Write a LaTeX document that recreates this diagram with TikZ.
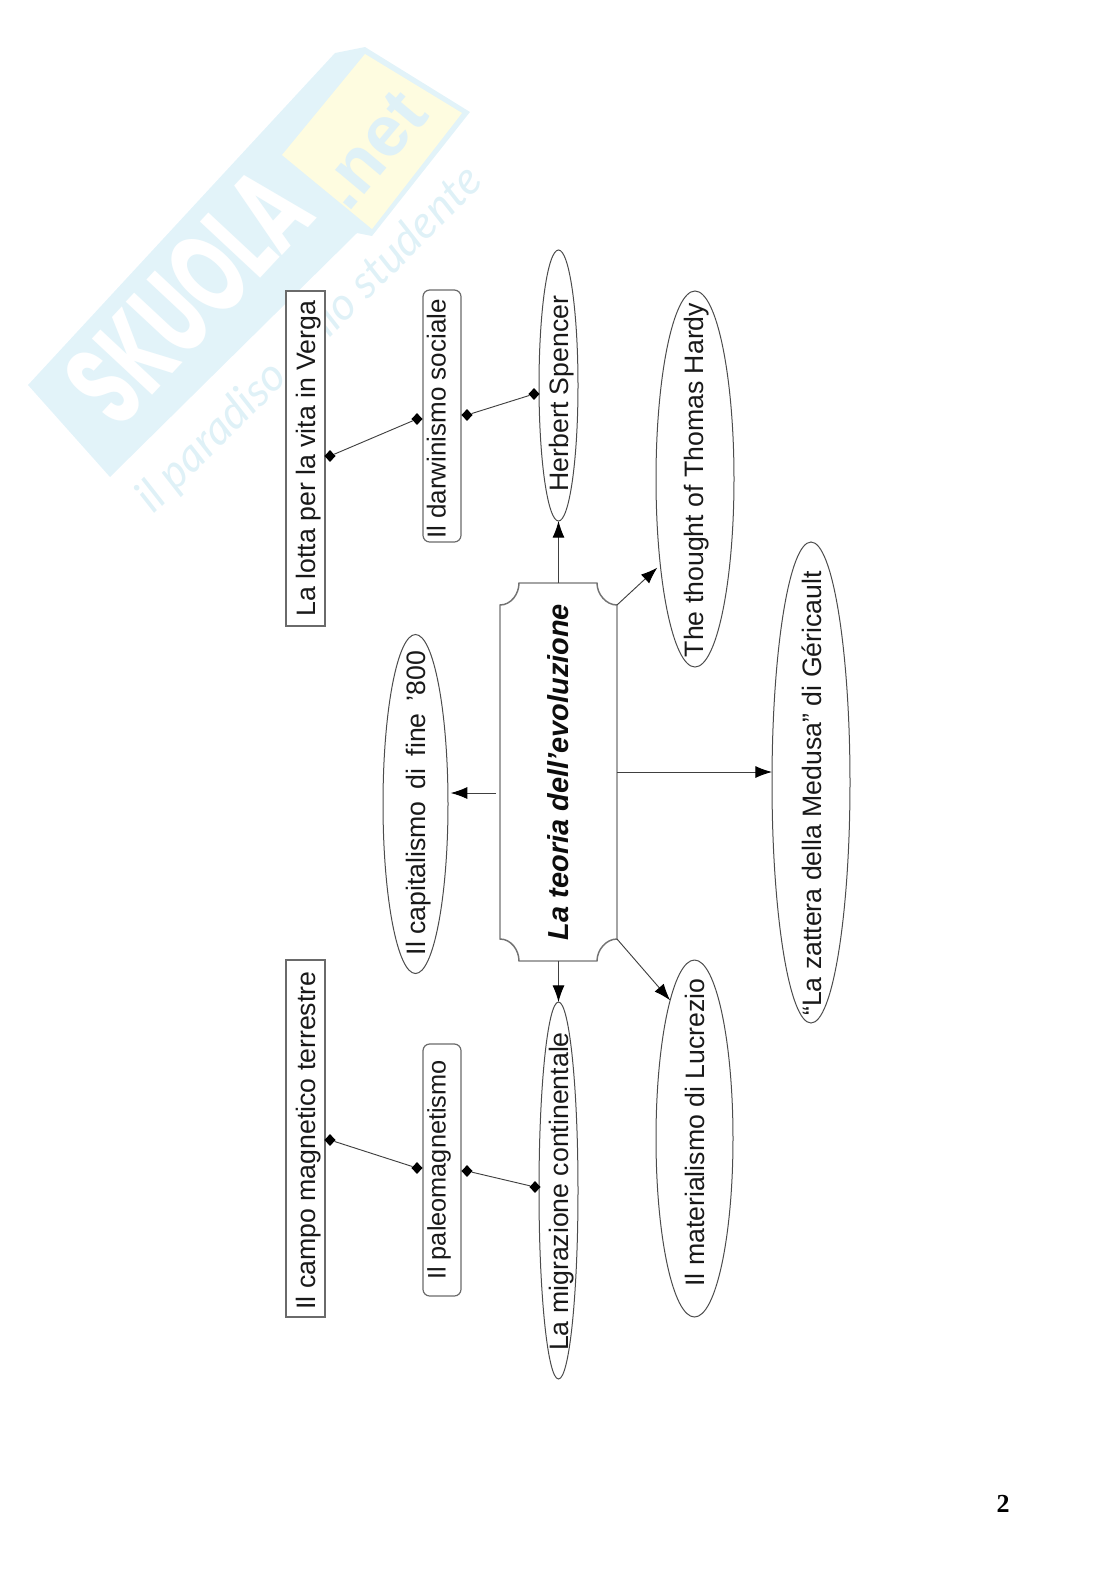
\documentclass[tikz,border=0pt]{standalone}
\usepackage{fontspec}
\setmainfont{Liberation Sans}
\newfontfamily\numfont{Liberation Serif}
\newfontfamily\wmfont{Lato}
\newfontfamily\wmhead{Poppins}
\usetikzlibrary{shapes.geometric,arrows.meta,calc}
% rotated label, centred on its node; #1 and #2 shift it right and down, in pixels
\newcommand{\vtext}[3]{\rotatebox{90}{\makebox[0pt]{\smash{\kern\dimexpr -#2pt*3/2\relax\raisebox{\dimexpr -.36em - #1pt*3/4\relax}{#3}}}}}
\definecolor{wmblue}{HTML}{E2F3F9}
\definecolor{wmyellow}{HTML}{FEFCE0}
\definecolor{wmtext}{HTML}{DFF1F7}
\definecolor{edgegrey}{HTML}{6A6A6A}
\tikzset{
  x=0.75pt,y=-0.75pt,
  sz/.style 2 args={minimum width=#1*0.75pt,minimum height=#2*0.75pt},
  labeltext/.style={font=\fontsize{20}{24}\selectfont,text=black!90,inner sep=0pt,outer sep=0pt},
  oval/.style={labeltext,shape=ellipse,draw=black!70,line width=0.75pt},
  plainbox/.style={labeltext,shape=rectangle,draw=edgegrey,fill=white,line width=0.9pt},
  roundbox/.style={labeltext,shape=rectangle,rounded corners=5pt,draw=edgegrey,fill=white,line width=0.9pt},
  themebox/.style={shape=rectangle,inner sep=0pt,outer sep=0pt,font=\fontsize{21.7}{26}\selectfont\bfseries\itshape,text=black!95},
  themeline/.style={draw=black!55,line width=1.1pt},
  arr/.style={draw=black!75,line width=0.7pt,-{Latex[length=12.5pt,width=9pt,black]}},
  dlink/.style={draw=black!75,line width=0.7pt},
  dmd/.style={shape=diamond,fill=black,inner sep=0pt,minimum width=8.5pt,minimum height=9pt},
}
\begin{document}
\begin{tikzpicture}
\useasboundingbox (0,0) rectangle (1116,1579);
% watermark
\fill[wmblue] (28,385) -- (335,53) -- (365,47) -- (470,112) -- (372,236) -- (357,233) -- (110,477) -- cycle;
\fill[wmyellow] (365,54) -- (462,113) -- (372,229) -- (282,155) -- cycle;
\node[rotate=47,text=white,font=\wmhead\bfseries\fontsize{88}{92}\selectfont,inner sep=0pt] (wmname) at (188,296) {\scalebox{.62}[1]{SKUOLA}};
\node[rotate=50,text=wmtext,font=\fontsize{54}{58}\selectfont\bfseries,inner sep=0pt] (wmnet) at (372,150) {.net};
\node[rotate=45,text=wmtext,font=\wmfont\itshape\fontsize{34}{36}\selectfont,inner sep=0pt] (wmsub) at (310,340) {il paradiso dello studente};
% nodes
\node[plainbox,sz={39}{335}] (verga) at (305.5,458.5) {\vtext{0}{0}{La lotta per la vita in Verga}};
\node[roundbox,sz={38}{252}] (darwin) at (442,416) {\vtext{-6}{3}{\fontsize{19.5}{23}\selectfont Il darwinismo sociale}};
\node[oval,sz={39}{271}] (herbert) at (558.5,385.5) {\vtext{0}{8}{Herbert Spencer}};
\node[oval,sz={78}{376}] (hardy) at (695,479) {\vtext{-1}{1}{The thought of Thomas Hardy}};
\node[oval,sz={65}{339}] (capit) at (415.5,804) {\vtext{0}{-1}{Il capitalismo\hspace{3.5pt} di\hspace{3.5pt} fine\hspace{3.5pt} '800}};
\node[oval,sz={78}{481}] (zattera) at (811,782.5) {\vtext{1}{11}{“La zattera della Medusa” di Géricault}};
\node[plainbox,sz={39}{357}] (campo) at (305.5,1138.5) {\vtext{0}{2}{Il campo magnetico terrestre}};
\node[roundbox,sz={38}{252}] (paleo) at (442,1170) {\vtext{-6}{0}{\fontsize{19}{23}\selectfont Il paleomagnetismo}};
\node[oval,sz={39}{377}] (migr) at (558.5,1190.5) {\vtext{0}{1}{La migrazione continentale}};
\node[oval,sz={77}{357}] (lucr) at (694.5,1138.5) {\vtext{0}{-6}{Il materialismo di Lucrezio}};
\node[themebox,sz={117}{378}] (theme) at (558.5,772) {\vtext{0}{0}{La teoria dell'evoluzione}};
\draw[themeline] ($(theme.north west)+(0,22)$) .. controls ($(theme.north west)+(11,22)$) and ($(theme.north west)+(19,11)$) .. ($(theme.north west)+(19,0)$)
  -- ($(theme.north east)+(-20,0)$) .. controls ($(theme.north east)+(-20,11)$) and ($(theme.north east)+(-11,22)$) .. ($(theme.north east)+(0,22)$)
  -- ($(theme.south east)+(0,-22)$) .. controls ($(theme.south east)+(-11,-22)$) and ($(theme.south east)+(-20,-11)$) .. ($(theme.south east)+(-20,0)$)
  -- ($(theme.south west)+(19,0)$) .. controls ($(theme.south west)+(19,-11)$) and ($(theme.south west)+(11,-22)$) .. ($(theme.south west)+(0,-22)$)
  -- cycle;
% diamond ends
\node[dmd] (d1) at (330,456) {};
\node[dmd] (d2) at (417,419) {};
\node[dmd] (d3) at (467,415) {};
\node[dmd] (d4) at (534,394) {};
\node[dmd] (d5) at (330,1140) {};
\node[dmd] (d6) at (417,1168) {};
\node[dmd] (d7) at (467,1171) {};
\node[dmd] (d8) at (535,1187) {};
\draw[dlink] (d1) -- (d2);
\draw[dlink] (d3) -- (d4);
\draw[dlink] (d5) -- (d6);
\draw[dlink] (d7) -- (d8);
% arrows
\coordinate (capstart) at ($(theme.west)+(-4,21)$);
\draw[arr] (theme.north) -- (herbert.south);
\draw[arr,shorten >=3pt] ($(theme.north east)+(0,22)$) -- (hardy.248);
\draw[arr,shorten >=2pt] (capstart) -- (capstart -| capit.east);
\draw[arr] (theme.east) -- (theme.east -| zattera.west);
\draw[arr] (theme.south) -- (migr.north);
\draw[arr] ($(theme.south east)+(0,-22)$) -- (lucr.100);
% page number
\node[inner sep=0pt,font=\numfont\bfseries\fontsize{19.5}{23}\selectfont] (pagenum) at (1003,1504) {2};
\end{tikzpicture}
\end{document}
